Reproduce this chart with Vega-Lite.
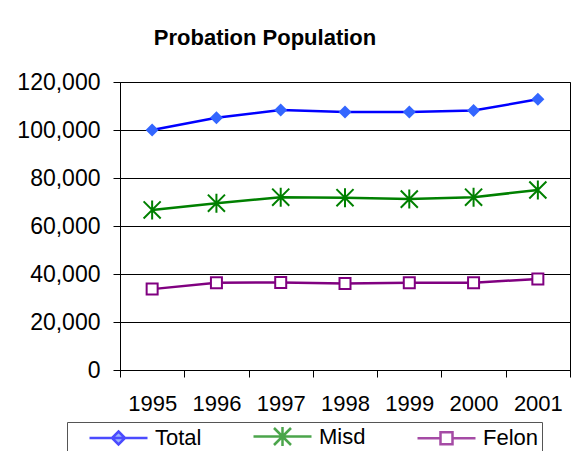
{
  "$schema": "https://vega.github.io/schema/vega-lite/v6.json",
  "width": 450,
  "height": 288,
  "autosize": {"type": "none"},
  "padding": {"left": 120, "top": 82, "right": 9, "bottom": 81},
  "background": "white",
  "title": {
    "text": "Probation Population",
    "font": "Liberation Sans",
    "fontSize": 22,
    "fontWeight": "bold",
    "color": "black",
    "anchor": "middle",
    "frame": "group",
    "dx": -80,
    "baseline": "alphabetic",
    "offset": 4
  },
  "config": {
    "font": "Liberation Sans",
    "view": {"stroke": "black", "strokeWidth": 1},
    "axis": {
      "labelFont": "Liberation Sans",
      "labelFontSize": 22,
      "labelColor": "black",
      "domainColor": "black",
      "tickColor": "black",
      "gridColor": "black",
      "gridOpacity": 1,
      "tickSize": 7
    },
    "legend": {
      "orient": "none",
      "legendX": -53,
      "legendY": 340,
      "direction": "horizontal",
      "padding": 3,
      "symbolOffset": 37,
      "symbolSize": 400,
      "symbolStrokeWidth": 2.5,
      "labelOffset": 25,
      "columnPadding": 32,
      "labelFont": "Liberation Sans",
      "labelFontSize": 22,
      "labelColor": "black",
      "fillColor": "white",
      "strokeColor": "#555555"
    }
  },
  "data": {
    "values": [
      {"year": "1995", "series": "Total", "value": 100000},
      {"year": "1996", "series": "Total", "value": 105100},
      {"year": "1997", "series": "Total", "value": 108300},
      {"year": "1998", "series": "Total", "value": 107500},
      {"year": "1999", "series": "Total", "value": 107500},
      {"year": "2000", "series": "Total", "value": 108100},
      {"year": "2001", "series": "Total", "value": 112800},
      {"year": "1995", "series": "Misd", "value": 66700},
      {"year": "1996", "series": "Misd", "value": 69500},
      {"year": "1997", "series": "Misd", "value": 72000},
      {"year": "1998", "series": "Misd", "value": 71800},
      {"year": "1999", "series": "Misd", "value": 71200},
      {"year": "2000", "series": "Misd", "value": 72000},
      {"year": "2001", "series": "Misd", "value": 75000},
      {"year": "1995", "series": "Felon", "value": 33700},
      {"year": "1996", "series": "Felon", "value": 36400},
      {"year": "1997", "series": "Felon", "value": 36500},
      {"year": "1998", "series": "Felon", "value": 36000},
      {"year": "1999", "series": "Felon", "value": 36400},
      {"year": "2000", "series": "Felon", "value": 36400},
      {"year": "2001", "series": "Felon", "value": 37900}
    ]
  },
  "encoding": {
    "x": {
      "field": "year",
      "type": "ordinal",
      "title": null,
      "scale": {"type": "band", "paddingInner": 0, "paddingOuter": 0},
      "axis": {"labelAngle": 0, "tickBand": "extent", "labelPadding": 16, "grid": false}
    },
    "y": {
      "field": "value",
      "type": "quantitative",
      "title": null,
      "scale": {"domain": [0, 120000], "nice": false},
      "axis": {"values": [0, 20000, 40000, 60000, 80000, 100000, 120000], "format": ",.0f", "labelPadding": 13, "labelFontSize": 23, "grid": true}
    }
  },
  "layer": [
    {
      "transform": [{"filter": "datum.series == 'Total'"}],
      "mark": {"type": "line", "color": "#0000FF", "strokeWidth": 2.5}
    },
    {
      "transform": [{"filter": "datum.series == 'Misd'"}],
      "mark": {"type": "line", "color": "#008000", "strokeWidth": 2.5}
    },
    {
      "transform": [{"filter": "datum.series == 'Felon'"}],
      "mark": {"type": "line", "color": "#800080", "strokeWidth": 2.5}
    },
    {
      "transform": [{"filter": "datum.series == 'Total'"}],
      "mark": {"type": "point", "shape": "M0,-1L1,0L0,1L-1,0Z", "size": 169, "filled": true, "fill": "#3366FF", "strokeWidth": 0, "opacity": 1}
    },
    {
      "transform": [{"filter": "datum.series == 'Misd'"}],
      "mark": {"type": "point", "shape": "M-0.9,-0.9L0.9,0.9M-0.9,0.9L0.9,-0.9M0,-1V1", "size": 361, "filled": false, "stroke": "#008000", "strokeWidth": 2, "opacity": 1}
    },
    {
      "transform": [{"filter": "datum.series == 'Felon'"}],
      "mark": {"type": "point", "shape": "M-1,-1H1V1H-1Z", "size": 121, "filled": true, "fill": "white", "stroke": "#800080", "strokeWidth": 2, "opacity": 1}
    },
    {
      "transform": [{"filter": "datum.series == 'none'"}],
      "mark": {"type": "point", "filled": true},
      "encoding": {
        "shape": {
          "field": "series",
          "type": "nominal",
          "scale": {
            "domain": ["Total", "Misd", "Felon"],
            "range": [
              "M-2.9,0H2.9M0,-0.65L0.65,0L0,0.65L-0.65,0Z",
              "M-2.9,0H2.9M0,-0.95V0.95M-0.85,-0.85L0.85,0.85M-0.85,0.85L0.85,-0.85",
              "M-2.9,0H-0.6M0.6,0H2.9M-0.6,-0.6H0.6V0.6H-0.6Z"
            ]
          },
          "legend": {"title": null}
        },
        "stroke": {
          "field": "series",
          "type": "nominal",
          "scale": {"domain": ["Total", "Misd", "Felon"], "range": ["#0000FF", "#008000", "#800080"]},
          "legend": {"title": null}
        },
        "fill": {
          "field": "series",
          "type": "nominal",
          "scale": {"domain": ["Total", "Misd", "Felon"], "range": ["#3366FF", "#008000", "#FFFFFF"]},
          "legend": {"title": null}
        }
      }
    }
  ]
}
